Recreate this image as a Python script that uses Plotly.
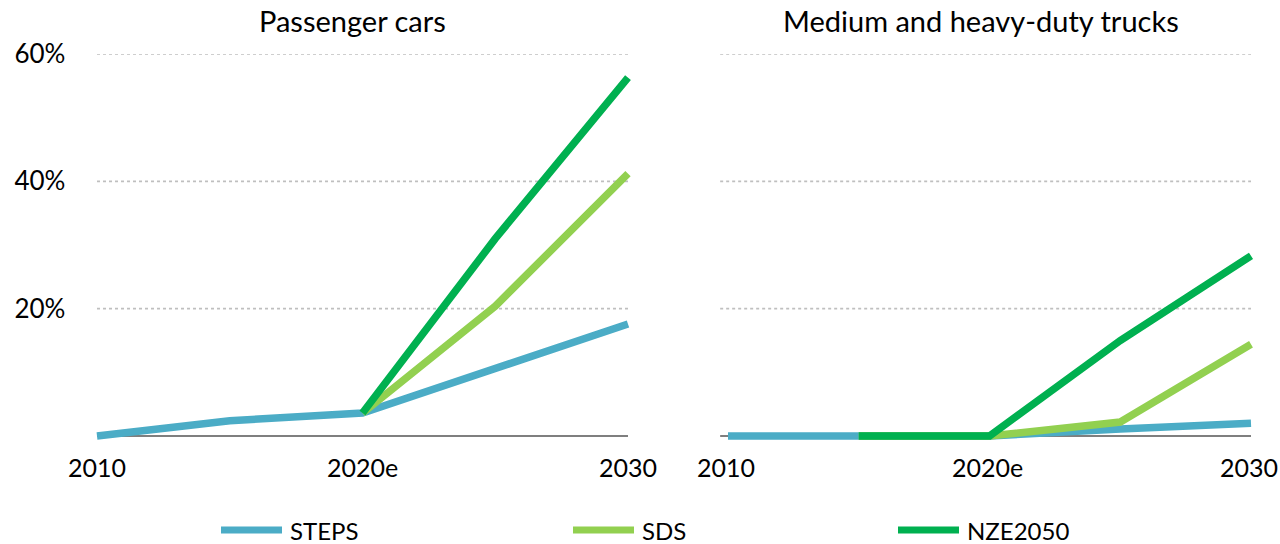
import plotly.graph_objects as go

years = [2010, 2015, 2020, 2025, 2030]
tick_years = [2010, 2020, 2030]
tick_labels = ["2010", "2020e", "2030"]
y_ticks = [20, 40, 60]
y_tick_labels = ["20%", "40%", "60%"]

series_names = ["STEPS", "SDS", "NZE2050"]
colors = ["#4BACC6", "#92D050", "#00B050"]

cars_steps = [0, 2.4, 3.6, 10.5, 17.6]
cars_sds = [None, None, 3.6, 20.4, 41.2]
cars_nze = [None, None, 3.6, 31.0, 56.3]

trucks_steps = [0, 0, 0, 1.1, 2.0]
trucks_sds = [None, 0, 0, 2.2, 14.4]
trucks_nze = [None, 0, 0, 15.0, 28.3]

FONT = "Lato"
W, H = 1280, 544
LW = 7.5

fig = go.Figure()

for i, (name, vals) in enumerate(zip(series_names, [cars_steps, cars_sds, cars_nze])):
    fig.add_trace(go.Scatter(x=years, y=vals, mode="lines", name=name,
                             line=dict(color=colors[i], width=LW),
                             xaxis="x", yaxis="y", showlegend=False))
for i, (name, vals) in enumerate(zip(series_names, [trucks_steps, trucks_sds, trucks_nze])):
    fig.add_trace(go.Scatter(x=years, y=vals, mode="lines", name=name,
                             line=dict(color=colors[i], width=LW),
                             xaxis="x2", yaxis="y2", showlegend=False))

# y mapping: 0 -> 436px, 60 -> 54px
ppu = (436 - 54) / 60.0
ymin = -1.2
ybot = 436 + (-ymin) * ppu
ydom = [(H - ybot) / H, (H - 54) / H]

# left x: 2010 -> 97, 2030 -> 628
lp = (628 - 97) / 20.0
lx0, lx1 = 2009.6, 2030.4
ldom = [(97 - (2010 - lx0) * lp) / W, (628 + (lx1 - 2030) * lp) / W]
# right x: 2010 -> 728, 2030 -> 1251
rp = (1251 - 728) / 20.0
rx0, rx1 = 2009.4, 2030.4
rdom = [(728 - (2010 - rx0) * rp) / W, (1251 + (rx1 - 2030) * rp) / W]

xfont = dict(family=FONT, size=25, color="#000000")
yfont = dict(family=FONT, size=26, color="#000000")

fig.update_layout(
    width=W, height=H,
    margin=dict(l=0, r=0, t=0, b=0, autoexpand=False),
    paper_bgcolor="white", plot_bgcolor="white",
    font=dict(family=FONT, size=22, color="#000000"),
    showlegend=False,
    xaxis=dict(domain=ldom, range=[lx0, lx1], tickvals=tick_years, ticktext=tick_labels,
               showgrid=False, zeroline=False, showline=False, ticks="", automargin=False,
               tickfont=xfont, anchor="y", ticklabelstandoff=7, ticklabeloverflow="allow"),
    yaxis=dict(domain=ydom, range=[ymin, 60], tickvals=y_ticks, ticktext=y_tick_labels,
               showgrid=False, zeroline=False, showline=False, ticks="", automargin=False,
               tickfont=yfont, anchor="x", ticklabelstandoff=20, ticklabeloverflow="allow"),
    xaxis2=dict(domain=rdom, range=[rx0, rx1], tickvals=tick_years, ticktext=tick_labels,
                showgrid=False, zeroline=False, showline=False, ticks="", automargin=False,
                tickfont=xfont, anchor="y2", ticklabelstandoff=7, ticklabelshift=-2,
                ticklabeloverflow="allow"),
    yaxis2=dict(domain=ydom, range=[ymin, 60], tickvals=y_ticks, showticklabels=False,
                showgrid=False, zeroline=False, showline=False, ticks="", automargin=False,
                anchor="x2"),
)

shapes = []
# gridlines and axis lines (behind traces)
for xr, yr, x0 in [("x", "y", 2010), ("x2", "y2", 2009.7)]:
    for yv in y_ticks:
        shapes.append(dict(type="line", xref=xr, yref=yr,
                           x0=x0, x1=2030, y0=yv, y1=yv, layer="below",
                           line=dict(color="#BFBFBF", width=1.6, dash="dot")))
    shapes.append(dict(type="line", xref=xr, yref=yr,
                       x0=x0, x1=2030, y0=0, y1=0, layer="below",
                       line=dict(color="#000000", width=1.2)))

# custom legend (long line glyphs)
legend_starts = [218, 570, 895]
leg_y = (H - 530) / H
for name, col, xs in zip(series_names, colors, legend_starts):
    shapes.append(dict(type="line", xref="paper", yref="paper",
                       x0=(xs + 3) / W, x1=(xs + 64) / W, y0=leg_y, y1=leg_y,
                       line=dict(color=col, width=7)))
    fig.add_annotation(text=name, xref="paper", yref="paper",
                       x=(xs + 70) / W, y=leg_y, xanchor="left", yanchor="middle",
                       showarrow=False, font=dict(family=FONT, size=24, color="#000000"))
fig.update_layout(shapes=shapes)

fig.add_annotation(text="Passenger cars", xref="paper", yref="paper",
                   x=352 / W, y=(H - 21) / H, xanchor="center", yanchor="middle",
                   showarrow=False, font=dict(family=FONT, size=29, color="#000000"))
fig.add_annotation(text="Medium and heavy-duty trucks", xref="paper", yref="paper",
                   x=981 / W, y=(H - 21) / H, xanchor="center", yanchor="middle",
                   showarrow=False, font=dict(family=FONT, size=29, color="#000000"))

fig.write_html("out.html", config={"displayModeBar": False},
               post_script="document.body.style.margin='0';document.body.style.overflow='hidden';")
